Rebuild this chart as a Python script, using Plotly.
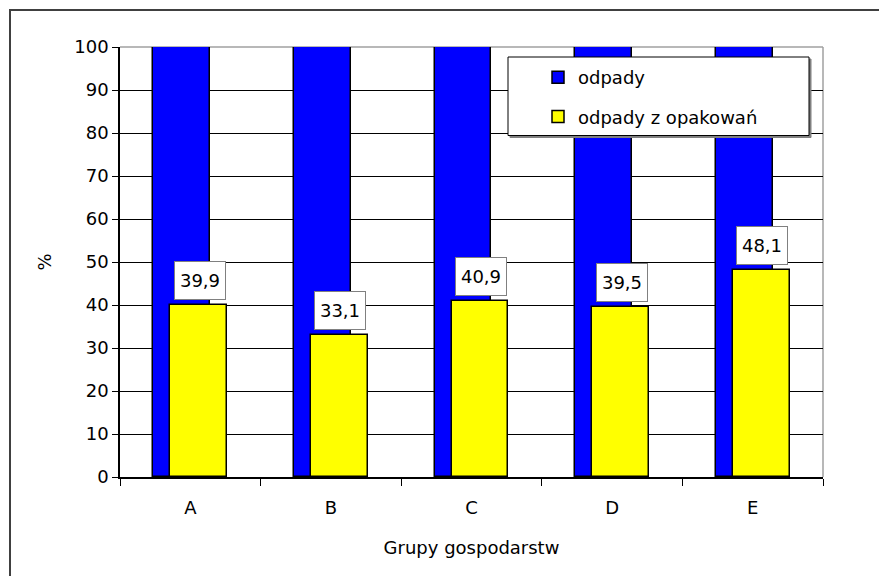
import plotly.graph_objects as go

# Data
groups = ["A", "B", "C", "D", "E"]
odpady = [100, 100, 100, 100, 100]
opakowania = [39.9, 33.1, 40.9, 39.5, 48.1]
labels = ["39,9", "33,1", "40,9", "39,5", "48,1"]

FONT = "DejaVu Sans, Liberation Sans, Arial, sans-serif"
FS = 18
W, H = 879, 576
L, R, T, B = 120, 56, 47, 99
PW = W - L - R
PH = H - T - B

bar_w = 0.405
shift = 0.0605

fig = go.Figure()
fig.add_trace(go.Bar(
    x=groups, y=odpady, name="odpady", legendgroup="g1",
    width=bar_w, offset=-bar_w / 2 - shift,
    marker=dict(color="#0000FF", line=dict(color="#000000", width=1.5)),
    hoverinfo="x+y",
))
fig.add_trace(go.Bar(
    x=groups, y=opakowania, name="odpady z opakowań", legendgroup="g2",
    width=bar_w, offset=-bar_w / 2 + shift,
    marker=dict(color="#FFFF00", line=dict(color="#000000", width=1.5)),
    hoverinfo="x+y",
))

# Value labels in boxes above the yellow bars
xshift_px = shift * PW / len(groups)
for g, v, t in zip(groups, opakowania, labels):
    fig.add_annotation(
        x=g, y=v, text=t, showarrow=False,
        xshift=xshift_px + 1, yshift=5, yanchor="bottom",
        font=dict(family=FONT, size=FS, color="#000000"),
        bgcolor="#FFFFFF", bordercolor="#808080", borderwidth=1,
        width=48, height=35, borderpad=1,
    )

def px_x(p):
    return (p - L) / PW

def px_y(p):
    return 1 - (p - T) / PH

shapes = [
    # outer frame
    dict(type="rect", xref="paper", yref="paper",
         x0=px_x(10), x1=px_x(900), y0=px_y(600), y1=px_y(10),
         line=dict(color="#404040", width=2), layer="below"),
    # plot area top and right edges
    dict(type="line", xref="paper", yref="paper", x0=0, x1=1, y0=1, y1=1,
         line=dict(color="#A0A0A0", width=1.5), layer="below"),
    dict(type="line", xref="paper", yref="paper", x0=1, x1=1, y0=0, y1=1,
         line=dict(color="#A0A0A0", width=1.5), layer="below"),
    # legend box shadow and box
    dict(type="rect", xref="paper", yref="paper",
         x0=px_x(510), x1=px_x(811), y0=px_y(137.5), y1=px_y(59),
         line=dict(color="#808080", width=1), fillcolor="#808080", layer="above"),
    dict(type="rect", xref="paper", yref="paper",
         x0=px_x(508), x1=px_x(809), y0=px_y(135.5), y1=px_y(57),
         line=dict(color="#000000", width=1), fillcolor="#FFFFFF", layer="above"),
]

fig.update_layout(
    width=W, height=H,
    margin=dict(l=L, r=R, t=T, b=B, autoexpand=False),
    paper_bgcolor="#FFFFFF", plot_bgcolor="#FFFFFF",
    barmode="overlay", bargap=0,
    font=dict(family=FONT, size=FS, color="#000000"),
    showlegend=True,
    legend=dict(
        x=px_x(538), y=px_y(59), xanchor="left", yanchor="top",
        bgcolor="rgba(0,0,0,0)", borderwidth=0,
        traceorder="grouped", tracegroupgap=13,
        font=dict(family=FONT, size=FS, color="#000000"),
        itemclick=False, itemdoubleclick=False,
    ),
    shapes=shapes,
    xaxis=dict(
        type="category", showgrid=False, tickson="boundaries",
        ticks="outside", ticklen=7, tickcolor="#000000", tickwidth=1,
        showline=True, linecolor="#000000", linewidth=1.5,
        tickfont=dict(family=FONT, size=FS),
        ticklabelstandoff=14,
        title=dict(text="Grupy gospodarstw", standoff=24,
                   font=dict(family=FONT, size=FS)),
        automargin=False, fixedrange=True,
    ),
    yaxis=dict(
        range=[0, 100], dtick=10, tick0=0,
        showgrid=True, gridcolor="#000000", gridwidth=1,
        ticks="outside", ticklen=6, tickcolor="#000000", tickwidth=1,
        showline=True, linecolor="#000000", linewidth=1.5,
        zeroline=False,
        tickfont=dict(family=FONT, size=FS),
        title=dict(text="%", standoff=18, font=dict(family=FONT, size=FS)),
        automargin=False, fixedrange=True,
    ),
)

fig.write_html("out.html", config={"displayModeBar": False})
